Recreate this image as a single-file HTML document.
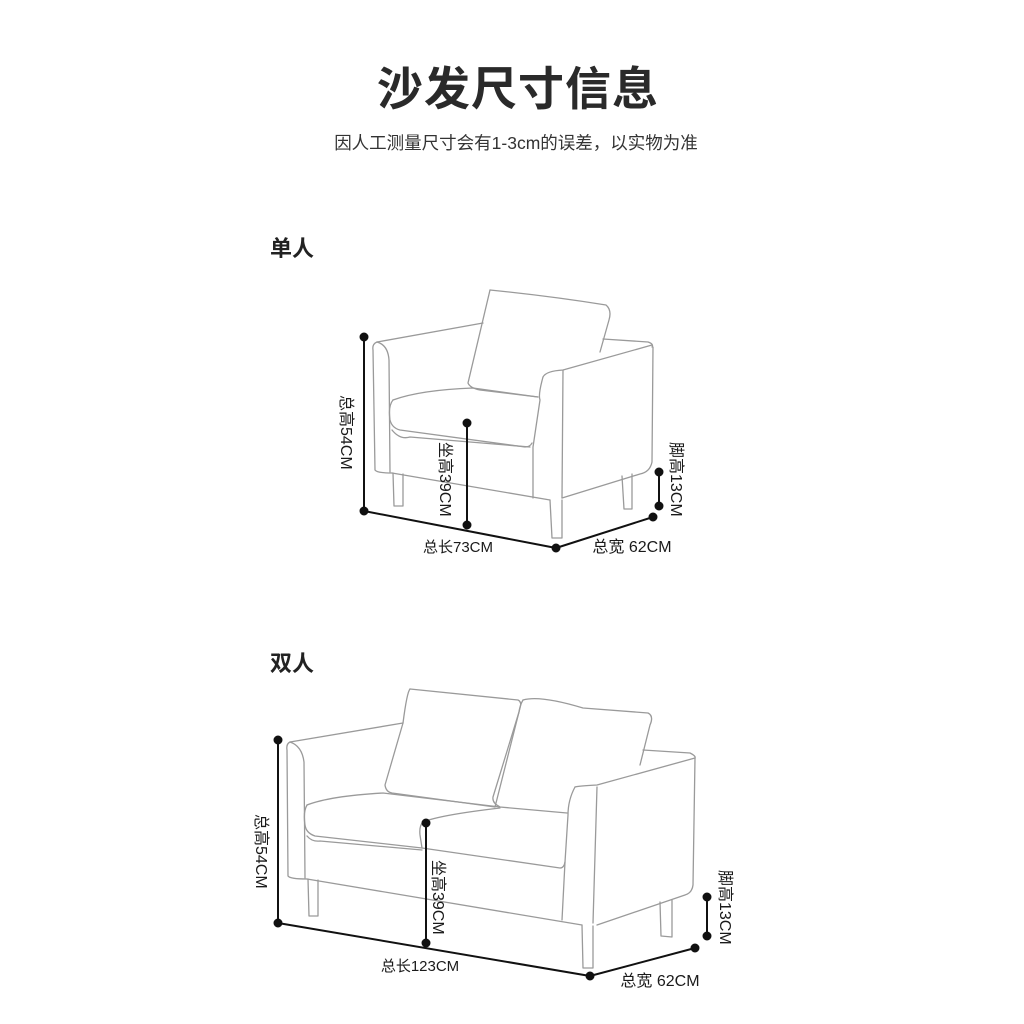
<!DOCTYPE html>
<html><head><meta charset="utf-8">
<style>
html,body{margin:0;padding:0;background:#fff;}
svg{display:block;}
.t{font-family:"Liberation Sans","Noto Sans CJK SC",sans-serif;}
</style></head>
<body>
<svg width="1024" height="1024" viewBox="0 0 1024 1024" xmlns="http://www.w3.org/2000/svg">
<rect width="1024" height="1024" fill="#fff"/>
<text class="t" x="518" y="105" font-size="46" font-weight="bold" fill="#2a2a2a" text-anchor="middle" letter-spacing="1">沙发尺寸信息</text>
<text class="t" x="516" y="149" font-size="17.5" fill="#333" text-anchor="middle">因人工测量尺寸会有1-3cm的误差，以实物为准</text>
<text class="t" x="270" y="256" font-size="22" font-weight="bold" fill="#222">单人</text>
<text class="t" x="270" y="671" font-size="22" font-weight="bold" fill="#222">双人</text>

<!-- Armchair -->
<g fill="none" stroke="#9a9a9a" stroke-width="1.3" stroke-linejoin="round" stroke-linecap="round">
<path d="M377 342 L483 323"/>
<path d="M377 342 Q372 344 373 350 L375 470 Q377 473 392 473"/>
<path d="M377 342 Q388 345 389 360 L390 472"/>
<path d="M392 473 L550 500"/>
<path d="M490 290 Q550 296 606 305 Q612 310 609 320 L600 352"/>
<path d="M490 290 L468 383 Q470 388 480 390 L538 397"/>
<path d="M393 400 Q420 390 473 388 L538 397"/>
<path d="M393 400 Q388 406 390 420 Q392 428 400 430 L525 447 Q530 447 532 443"/>
<path d="M392 430 Q400 440 410 437 L530 447"/>
<path d="M543 377 Q546 371 563 370 L652 345"/>
<path d="M603 339 L648 342 Q654 344 652 347"/>
<path d="M563 370 L562 498"/>
<path d="M543 377 Q538 395 540 400 L533 447 L533 498"/>
<path d="M653 347 L652 462 Q650 472 640 474 L562 498"/>
<path d="M393 473 L394 506 L403 506 L403 474"/>
<path d="M550 500 L552 538 L562 538 L562 500"/>
<path d="M622 476 L624 509 L632 509 L632 474"/>
</g>
<g stroke="#111" stroke-width="2" fill="#111">
<line x1="364" y1="337" x2="364" y2="511"/>
<line x1="364" y1="511" x2="556" y2="548"/>
<line x1="556" y1="548" x2="653" y2="517"/>
<line x1="467" y1="423" x2="467" y2="525"/>
<line x1="659" y1="472" x2="659" y2="506"/>
<circle cx="364" cy="337" r="3.5"/><circle cx="364" cy="511" r="3.5"/>
<circle cx="556" cy="548" r="3.5"/><circle cx="653" cy="517" r="3.5"/>
<circle cx="467" cy="423" r="3.5"/><circle cx="467" cy="525" r="3.5"/>
<circle cx="659" cy="472" r="3.5"/><circle cx="659" cy="506" r="3.5"/>
</g>
<g class="t" font-size="16" fill="#1a1a1a">
<text transform="translate(341,395) rotate(90)">总高54CM</text>
<text transform="translate(440,442) rotate(90)">坐高39CM</text>
<text transform="translate(671,442) rotate(90)">脚高13CM</text>
<text x="458" y="552" text-anchor="middle" font-size="15">总长73CM</text>
<text x="632" y="552" text-anchor="middle">总宽 62CM</text>
</g>

<!-- Loveseat -->
<g fill="none" stroke="#9a9a9a" stroke-width="1.3" stroke-linejoin="round" stroke-linecap="round">
<path d="M290 742 L403 723"/>
<path d="M290 742 Q286 744 287 750 L288 876 Q290 879 307 879"/>
<path d="M290 742 Q302 746 304 762 L305 878"/>
<path d="M307 879 L582 925"/>
<path d="M410 689 L518 700 Q522 702 520 708 L495 807"/>
<path d="M410 689 Q407 692 403 723 L385 785 Q386 792 392 793 L495 807"/>
<path d="M523 700 Q540 695 583 708 L648 713 Q654 716 650 725 L640 765"/>
<path d="M523 700 Q520 705 519 712 L493 797 Q492 803 500 807"/>
<path d="M307 805 Q330 796 383 793 L500 807 L567 813"/>
<path d="M307 805 Q303 812 305 825 Q306 833 315 836 L422 848"/>
<path d="M423 822 Q440 815 500 808"/>
<path d="M423 822 Q419 826 420 835 L422 848 L560 868 Q564 868 565 862"/>
<path d="M307 836 Q312 842 320 841 L422 850"/>
<path d="M575 787 Q578 786 597 785 L695 758"/>
<path d="M643 750 L690 753 Q696 756 695 758"/>
<path d="M597 787 L593 923"/>
<path d="M575 787 Q568 800 568 815 L565 862 L562 920"/>
<path d="M695 758 L693 885 Q692 893 685 895 L597 925"/>
<path d="M308 879 L309 916 L318 916 L318 880"/>
<path d="M582 925 L583 968 L593 968 L593 926"/>
<path d="M660 902 L661 936 L672 937 L672 900"/>
</g>
<g stroke="#111" stroke-width="2" fill="#111">
<line x1="278" y1="740" x2="278" y2="923"/>
<line x1="278" y1="923" x2="590" y2="976"/>
<line x1="590" y1="976" x2="695" y2="948"/>
<line x1="426" y1="823" x2="426" y2="943"/>
<line x1="707" y1="897" x2="707" y2="936"/>
<circle cx="278" cy="740" r="3.5"/><circle cx="278" cy="923" r="3.5"/>
<circle cx="590" cy="976" r="3.5"/><circle cx="695" cy="948" r="3.5"/>
<circle cx="426" cy="823" r="3.5"/><circle cx="426" cy="943" r="3.5"/>
<circle cx="707" cy="897" r="3.5"/><circle cx="707" cy="936" r="3.5"/>
</g>
<g class="t" font-size="16" fill="#1a1a1a">
<text transform="translate(256,814) rotate(90)">总高54CM</text>
<text transform="translate(433,860) rotate(90)">坐高39CM</text>
<text transform="translate(720,870) rotate(90)">脚高13CM</text>
<text x="420" y="971" text-anchor="middle" font-size="15">总长123CM</text>
<text x="660" y="986" text-anchor="middle">总宽 62CM</text>
</g>
</svg>
</body></html>
